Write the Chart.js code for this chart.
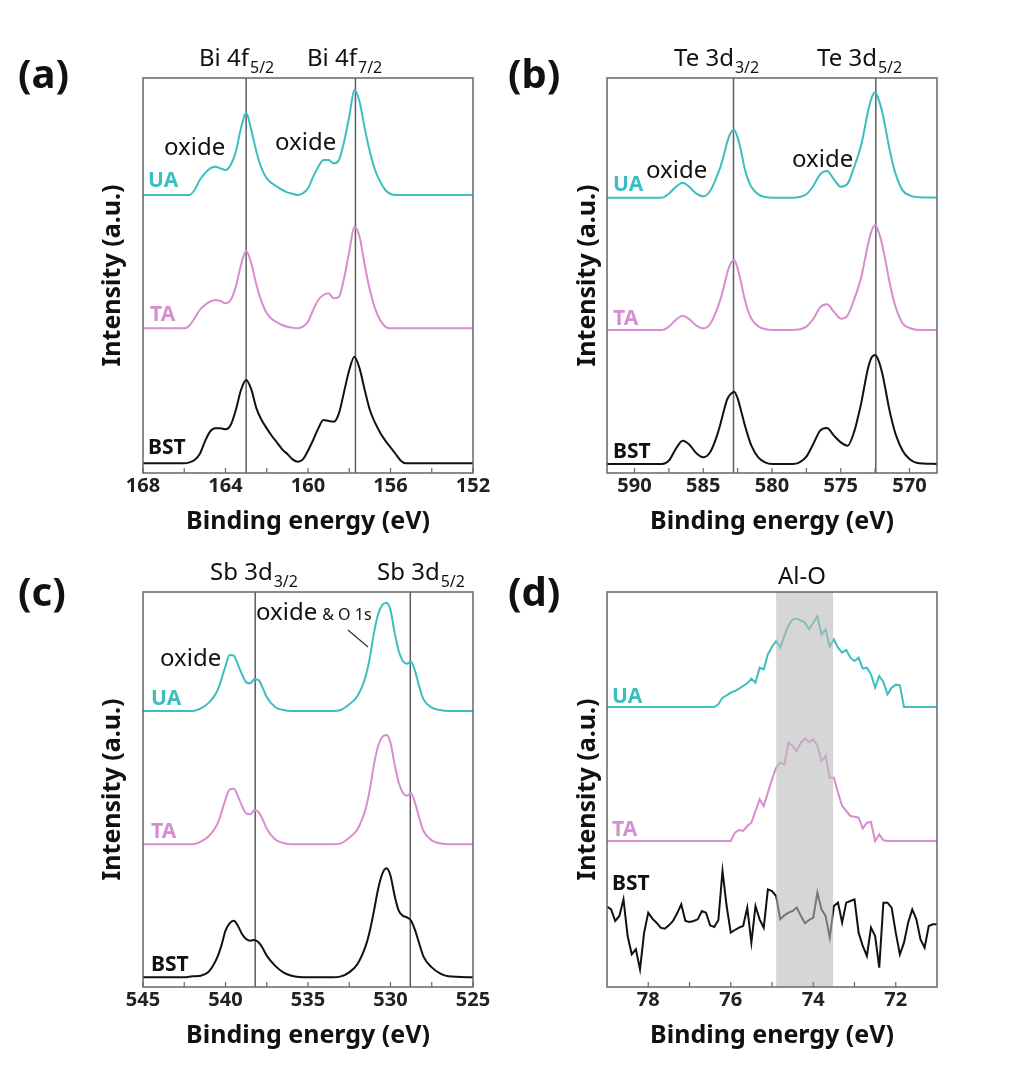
<!DOCTYPE html>
<html>
<head>
<meta charset="utf-8">
<script src="https://cdn.jsdelivr.net/npm/chart.js@4.4.1/dist/chart.umd.min.js"></script>
<style>
  body { margin: 0; background: #fff; width: 1012px; height: 1077px; position: relative; overflow: hidden; }
  .panel { position: absolute; }
</style>
</head>
<body>
<div class="panel" style="left:0;top:0;width:506px;height:545px"><canvas id="chartA"></canvas></div>
<div class="panel" style="left:506px;top:0;width:506px;height:545px"><canvas id="chartB"></canvas></div>
<div class="panel" style="left:0;top:545px;width:506px;height:532px"><canvas id="chartC"></canvas></div>
<div class="panel" style="left:506px;top:545px;width:506px;height:532px"><canvas id="chartD"></canvas></div>
<script>
// ---- (a) Bi 4f ----
const biX = [168, 166.25, 166, 165.75, 165.5, 165.25, 165, 164.75, 164.5, 164.25, 164, 163.75, 163.5, 163.25, 163, 162.75,
  162.5, 162.25, 162, 161.75, 161.5, 161.25, 161, 160.75, 160.5, 160.25, 160, 159.75, 159.5, 159.25, 159, 158.75,
  158.5, 158.25, 158, 157.75, 157.5, 157.25, 157, 156.75, 156.5, 156.25, 156, 155.75, 155.5, 155.25, 155, 152];
const biUA = [834, 834, 834, 834, 849, 879, 899, 914, 919, 914, 909, 924, 964, 1034, 1081, 1029,
  964, 914, 884, 869, 859, 849, 842, 838, 834, 839, 854, 889, 919, 939, 939, 929,
  939, 994, 1069, 1149, 1114, 1034, 964, 909, 874, 849, 837, 834, 834, 834, 834, 834];
const biTA = [434, 434, 434, 442, 464, 489, 504, 514, 519, 516, 509, 519, 559, 624, 666, 629,
  564, 514, 479, 462, 452, 444, 439, 436, 434, 439, 454, 489, 519, 534, 539, 524,
  529, 584, 664, 739, 709, 624, 549, 494, 459, 439, 434, 434, 434, 434, 434, 434];
const biBST = [29, 29, 29, 32, 39, 57, 94, 124, 134, 134, 131, 144, 189, 249, 279, 251,
  194, 159, 134, 111, 91, 71, 57, 41, 34, 41, 67, 99, 134, 159, 156, 154,
  179, 244, 309, 349, 314, 249, 189, 151, 121, 97, 77, 57, 37, 29, 29, 29];
const biTicks = [168, 166, 164, 162, 160, 158, 156, 154, 152];
const biLabels = [168, 164, 160, 156, 152];
const biPeaks = [163.0, 157.7];

// ---- (b) Te 3d ----
const teX = [592, 588.5, 588, 587.5, 587, 586.5, 586, 585.5, 585, 584.5, 584, 583.75, 583.5, 583.25, 583, 582.75,
  582.5, 582.25, 582, 581.75, 581.5, 581, 580.5, 580, 578.5, 578, 577.5, 577, 576.5, 576, 575.5, 575,
  574.5, 574, 573.75, 573.5, 573.25, 573, 572.75, 572.5, 572.25, 572, 571.75, 571.5, 571.25, 571, 570.5, 570, 569.5, 568];
const teUA = [826, 826, 826, 838, 858, 871, 858, 838, 830, 846, 891, 918, 954, 994, 1021, 1029,
  1006, 966, 916, 881, 858, 836, 828, 826, 826, 828, 836, 861, 896, 906, 881, 859,
  868, 921, 951, 986, 1036, 1088, 1126, 1143, 1121, 1086, 1036, 981, 934, 896, 848, 833, 828, 826];
const teTA = [429, 429, 429, 439, 459, 472, 461, 442, 434, 447, 491, 521, 559, 601, 629, 639,
  614, 572, 524, 487, 463, 440, 432, 429, 429, 431, 439, 462, 497, 506, 484, 463,
  473, 524, 554, 589, 639, 689, 727, 744, 724, 687, 637, 582, 535, 497, 449, 435, 430, 429];
const teBST = [27, 27, 27, 37, 72, 97, 85, 59, 47, 62, 112, 147, 187, 222, 237, 244,
  224, 187, 147, 112, 82, 47, 32, 27, 27, 32, 49, 87, 127, 135, 112, 92,
  82, 127, 167, 212, 267, 317, 347, 354, 337, 302, 252, 197, 152, 115, 67, 42, 31, 27];
const teTicks = [590, 587.5, 585, 582.5, 580, 577.5, 575, 572.5, 570];
const teLabels = [590, 585, 580, 575, 570];
const tePeaks = [582.8, 572.45];

// ---- (c) Sb 3d ----
const sbX = [545, 542.5, 542, 541.5, 541, 540.5, 540.25, 540, 539.75, 539.5, 539.25, 539, 538.75, 538.5, 538.25, 538,
  537.75, 537.5, 537, 536.5, 536, 535, 534, 533.5, 533, 532.5, 532, 531.5, 531.25, 531, 530.75, 530.5,
  530.25, 530, 529.75, 529.5, 529.25, 529, 528.75, 528.5, 528.25, 528, 527.5, 527, 526.5, 525];
const sbUA = [828, 828, 828, 836, 853, 888, 923, 963, 996, 994, 968, 938, 914, 911, 923, 921,
  898, 870, 840, 831, 828, 828, 828, 828, 831, 848, 873, 933, 988, 1063, 1118, 1146,
  1153, 1131, 1063, 1008, 978, 970, 976, 946, 900, 863, 838, 831, 828, 828];
const sbTA = [428, 428, 428, 436, 453, 488, 523, 563, 593, 595, 573, 543, 521, 518, 530, 525,
  503, 475, 443, 432, 428, 428, 428, 428, 431, 448, 473, 536, 593, 668, 723, 750,
  756, 733, 668, 613, 583, 574, 581, 550, 506, 468, 440, 431, 428, 428];
const sbBST = [29, 29, 32, 34, 47, 89, 124, 169, 191, 199, 184, 159, 144, 139, 141, 134,
  117, 94, 64, 44, 34, 29, 29, 29, 32, 44, 69, 124, 169, 229, 294, 339,
  356, 334, 274, 229, 214, 209, 199, 169, 129, 91, 59, 41, 32, 29];
const sbTicks = [545, 542.5, 540, 537.5, 535, 532.5, 530, 527.5, 525];
const sbLabels = [545, 540, 535, 530, 525];
const sbPeaks = [538.2, 528.8];

// ---- (d) Al 2p ----
const alX = [79, 78.9, 78.8, 78.7, 78.6, 78.5, 78.4, 78.3, 78.2, 78.1, 78, 77.9, 77.8, 77.7, 77.6, 77.5, 77.4, 77.3, 77.2, 77.1,
  77, 76.9, 76.8, 76.7, 76.6, 76.5, 76.4, 76.3, 76.2, 76.1, 76, 75.9, 75.8, 75.7, 75.6, 75.5, 75.4, 75.3, 75.2, 75.1,
  75, 74.9, 74.8, 74.7, 74.6, 74.5, 74.4, 74.3, 74.2, 74.1, 74, 73.9, 73.8, 73.7, 73.6, 73.5, 73.4, 73.3, 73.2, 73.1,
  73, 72.9, 72.8, 72.7, 72.6, 72.5, 72.4, 72.3, 72.2, 72.1, 72, 71.9, 71.8, 71.7, 71.6, 71.5, 71.4, 71.3, 71.2, 71.1, 71];
const alUA = [840, 840, 840, 840, 840, 840, 840, 840, 840, 840, 840, 840, 840, 840, 840, 840, 840, 840, 840, 840,
  840, 840, 840, 840, 840, 840, 840, 848, 868, 875, 883, 888, 895, 903, 911, 925, 913, 958, 953, 998,
  1021, 1038, 1018, 1053, 1085, 1103, 1105, 1100, 1093, 1073, 1093, 1113, 1058, 1073, 1021, 1043, 1018, 1003, 1011, 988,
  978, 988, 955, 958, 938, 898, 933, 915, 878, 898, 907, 905, 840, 840, 840, 840, 840, 840, 840, 840, 840];
const alTA = [438, 438, 438, 438, 438, 438, 438, 438, 438, 438, 438, 438, 438, 438, 438, 438, 438, 438, 438, 438,
  438, 438, 438, 438, 438, 438, 438, 438, 438, 438, 438, 463, 471, 468, 483, 493, 528, 563, 543, 583,
  623, 658, 673, 668, 733, 723, 708, 733, 745, 735, 743, 723, 678, 693, 628, 628, 583, 543, 528, 513,
  511, 508, 475, 493, 495, 438, 458, 440, 438, 438, 438, 438, 438, 438, 438, 438, 438, 438, 438, 438, 438];
const alBST = [241, 233, 198, 213, 263, 153, 98, 113, 53, 163, 223, 205, 193, 178, 175, 185, 198, 221, 248, 198,
  195, 198, 203, 228, 223, 185, 180, 201, 348, 243, 163, 171, 178, 183, 238, 133, 243, 203, 178, 293,
  288, 273, 203, 215, 223, 228, 238, 213, 191, 201, 208, 283, 233, 213, 148, 243, 253, 193, 253, 258,
  263, 163, 123, 93, 178, 153, 58, 253, 253, 238, 163, 98, 133, 193, 233, 203, 143, 118, 183, 188, 188];
const alTicks = [78, 77, 76, 75, 74, 73, 72];
const alLabels = [78, 76, 74, 72];
const alBand = [74.9, 73.52];

const TEAL = '#3dbebe';
const PINK = '#d68ed0';
const INK = '#111111';
const FONT = "'Noto Sans', 'Open Sans', sans-serif";

// draws the frame, inward ticks, peak lines, band and all the labels
const annotate = {
  id: 'annotate',
  beforeDatasetsDraw(chart, args, o) {
    const { ctx, chartArea: a, scales: { x } } = chart;
    ctx.save();
    ctx.strokeStyle = '#5c5c5c';
    ctx.lineWidth = 1.5;
    o.lines.forEach(v => {
      const px = x.getPixelForValue(v);
      ctx.beginPath();
      ctx.moveTo(px, a.top);
      ctx.lineTo(px, a.bottom);
      ctx.stroke();
    });
    ctx.restore();
  },
  afterDatasetsDraw(chart, args, o) {
    if (!o.band) return;
    const { ctx, chartArea: a, scales: { x } } = chart;
    const x1 = x.getPixelForValue(o.band[0]);
    const x2 = x.getPixelForValue(o.band[1]);
    ctx.save();
    ctx.fillStyle = 'rgba(186,186,186,0.6)';
    ctx.fillRect(x1, a.top, x2 - x1, a.bottom - a.top);
    ctx.restore();
  },
  afterDraw(chart, args, o) {
    const { ctx, chartArea: a, scales: { x } } = chart;
    const [ox, oy] = o.offset;
    ctx.save();
    // frame
    ctx.strokeStyle = '#666';
    ctx.lineWidth = 1.5;
    ctx.strokeRect(a.left, a.top, a.right - a.left, a.bottom - a.top);
    // inward ticks
    ctx.lineWidth = 1.2;
    x.ticks.forEach(t => {
      const px = x.getPixelForValue(t.value);
      ctx.beginPath();
      ctx.moveTo(px, a.bottom);
      ctx.lineTo(px, a.bottom - 5);
      ctx.stroke();
    });
    // y title
    ctx.save();
    ctx.translate(o.yTitleX - ox, (a.top + a.bottom) / 2);
    ctx.rotate(-Math.PI / 2);
    ctx.font = `bold 25px ${FONT}`;
    ctx.fillStyle = INK;
    ctx.textAlign = 'center';
    ctx.textBaseline = 'middle';
    ctx.fillText('Intensity (a.u.)', 0, 0);
    ctx.restore();
    // pointer line
    if (o.pointer) {
      ctx.strokeStyle = '#333';
      ctx.lineWidth = 1.2;
      ctx.beginPath();
      ctx.moveTo(o.pointer[0] - ox, o.pointer[1] - oy);
      ctx.lineTo(o.pointer[2] - ox, o.pointer[3] - oy);
      ctx.stroke();
    }
    // texts
    ctx.textBaseline = 'alphabetic';
    o.texts.forEach(t => {
      ctx.font = `${t.w || 'normal'} ${t.s || 24}px ${FONT}`;
      ctx.fillStyle = t.c || INK;
      ctx.textAlign = t.align || 'left';
      ctx.fillText(t.t, t.x - ox, t.y - oy);
      const w = ctx.measureText(t.t).width;
      if (t.sub) {
        ctx.font = `normal 16px ${FONT}`;
        ctx.fillText(t.sub, t.x - ox + w + 1, t.y - oy + 7);
      }
      if (t.tail) {
        ctx.font = `normal 16px ${FONT}`;
        ctx.fillText(t.tail, t.x - ox + w + 5, t.y - oy);
      }
    });
    ctx.restore();
  }
};

function series(xs, ys, color, smooth) {
  return {
    data: xs.map((v, i) => ({ x: v, y: ys[i] })),
    borderColor: color,
    borderWidth: 2,
    pointRadius: 0,
    fill: false,
    cubicInterpolationMode: smooth ? 'monotone' : 'default',
    tension: 0
  };
}

function makePanel(id, p) {
  new Chart(document.getElementById(id), {
    type: 'line',
    data: {
      datasets: [
        series(p.xs, p.ua, TEAL, p.smooth),
        series(p.xs, p.ta, PINK, p.smooth),
        series(p.xs, p.bst, INK, p.smooth)
      ]
    },
    options: {
      responsive: true,
      maintainAspectRatio: false,
      animation: false,
      layout: { padding: p.pad },
      plugins: {
        legend: { display: false },
        tooltip: { enabled: false },
        annotate: {
          offset: p.offset,
          lines: p.lines,
          band: p.band || null,
          pointer: p.pointer || null,
          yTitleX: p.yTitleX,
          texts: p.texts
        }
      },
      scales: {
        x: {
          type: 'linear',
          reverse: true,
          min: p.min,
          max: p.max,
          grid: { display: false, drawTicks: false },
          border: { display: false },
          afterBuildTicks: s => { s.ticks = p.ticks.map(v => ({ value: v })); },
          afterFit: s => { s.height = 72; s.paddingLeft = 0; s.paddingRight = 0; },
          ticks: {
            autoSkip: false,
            maxRotation: 0,
            padding: 1,
            color: '#222',
            font: { family: FONT, size: 20, weight: 'bold' },
            callback: v => p.labels.includes(v) ? String(v) : ''
          },
          title: {
            display: true,
            text: 'Binding energy (eV)',
            color: INK,
            font: { family: FONT, size: 25, weight: 'bold' },
            padding: { top: 0, bottom: 8 }
          }
        },
        y: { display: false, min: 0, max: 1185 }
      }
    },
    plugins: [annotate]
  });
}

const lab = (t, x, y, c) => ({ t, x, y, c, w: 'bold', s: 21 });

makePanel('chartA', {
  xs: biX, ua: biUA, ta: biTA, bst: biBST, smooth: true,
  min: 152, max: 168, ticks: biTicks, labels: biLabels, lines: biPeaks,
  pad: { left: 143, top: 78, right: 33, bottom: 0 },
  offset: [0, 0], yTitleX: 113,
  texts: [
    { t: '(a)', x: 18, y: 88, w: 'bold', s: 40 },
    { t: 'Bi 4f', sub: '5/2', x: 199, y: 66 },
    { t: 'Bi 4f', sub: '7/2', x: 307, y: 66 },
    { t: 'oxide', x: 164, y: 155 },
    { t: 'oxide', x: 275, y: 150 },
    lab('UA', 148, 187, TEAL), lab('TA', 150, 321, PINK), lab('BST', 148, 454, INK)
  ]
});

makePanel('chartB', {
  xs: teX, ua: teUA, ta: teTA, bst: teBST, smooth: true,
  min: 568, max: 592, ticks: teTicks, labels: teLabels, lines: tePeaks,
  pad: { left: 101, top: 78, right: 75, bottom: 0 },
  offset: [506, 0], yTitleX: 588,
  texts: [
    { t: '(b)', x: 508, y: 88, w: 'bold', s: 40 },
    { t: 'Te 3d', sub: '3/2', x: 674, y: 66 },
    { t: 'Te 3d', sub: '5/2', x: 817, y: 66 },
    { t: 'oxide', x: 646, y: 178 },
    { t: 'oxide', x: 792, y: 167 },
    lab('UA', 613, 191, TEAL), lab('TA', 613, 325, PINK), lab('BST', 613, 458, INK)
  ]
});

makePanel('chartC', {
  xs: sbX, ua: sbUA, ta: sbTA, bst: sbBST, smooth: true,
  min: 525, max: 545, ticks: sbTicks, labels: sbLabels, lines: sbPeaks,
  pad: { left: 143, top: 47, right: 33, bottom: 18 },
  offset: [0, 545], yTitleX: 113,
  pointer: [348, 630, 368, 647],
  texts: [
    { t: '(c)', x: 18, y: 606, w: 'bold', s: 40 },
    { t: 'Sb 3d', sub: '3/2', x: 210, y: 580 },
    { t: 'Sb 3d', sub: '5/2', x: 377, y: 580 },
    { t: 'oxide', tail: '& O 1s', x: 256, y: 620 },
    { t: 'oxide', x: 160, y: 666 },
    lab('UA', 151, 705, TEAL), lab('TA', 151, 838, PINK), lab('BST', 151, 971, INK)
  ]
});

makePanel('chartD', {
  xs: alX, ua: alUA, ta: alTA, bst: alBST, smooth: false,
  min: 71, max: 79, ticks: alTicks, labels: alLabels, lines: [], band: alBand,
  pad: { left: 101, top: 47, right: 75, bottom: 18 },
  offset: [506, 545], yTitleX: 588,
  texts: [
    { t: '(d)', x: 508, y: 606, w: 'bold', s: 40 },
    { t: 'Al-O', x: 802, y: 584, align: 'center' },
    lab('UA', 612, 703, TEAL), lab('TA', 612, 836, PINK), lab('BST', 612, 890, INK)
  ]
});
</script>
</body>
</html>
